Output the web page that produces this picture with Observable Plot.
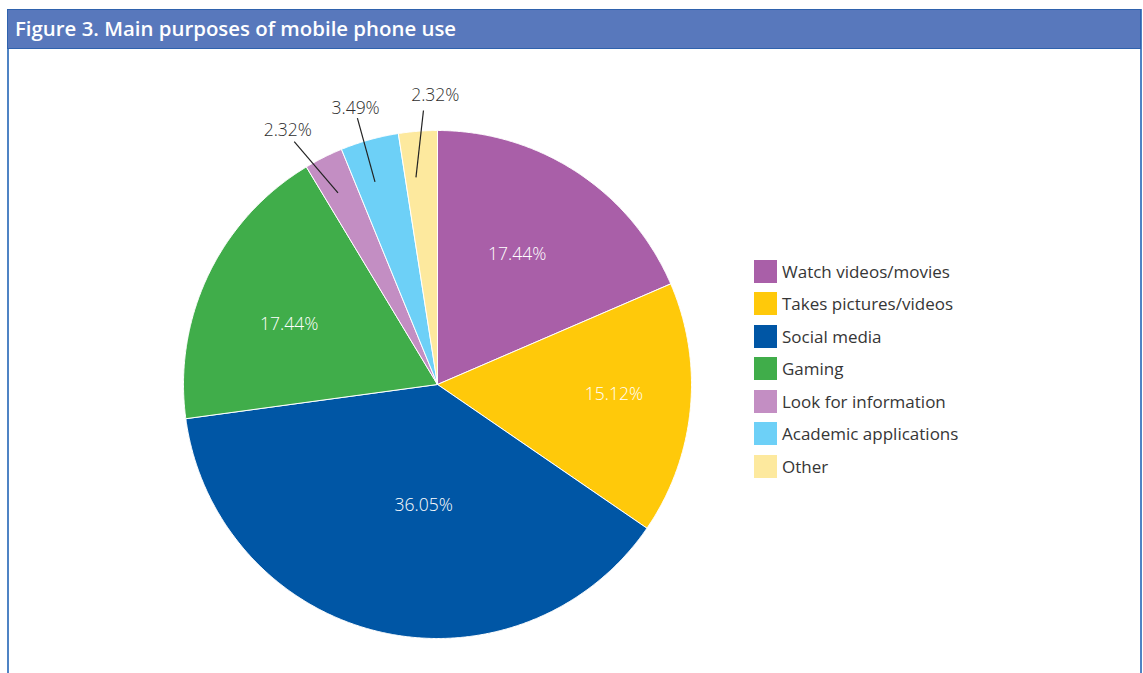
<!DOCTYPE html>
<html><head><meta charset="utf-8">
<script src="https://cdn.jsdelivr.net/npm/d3@7"></script>
<script src="https://cdn.jsdelivr.net/npm/@observablehq/plot@0.6"></script>
<style>
body{margin:0;background:#fff;font-family:"Open Sans",sans-serif;overflow:hidden;}
#frame{position:absolute;left:7px;top:9px;width:1131px;height:700px;border-left:2px solid #4f83c4;border-right:2px solid #4f83c4;}
#header{position:absolute;left:7px;top:9px;width:1134px;height:40px;background:#5878bc;border:1px solid #2f62ad;box-sizing:border-box;color:#fff;font-weight:600;font-size:20.4px;line-height:37px;padding-left:7px;white-space:nowrap;}
#chart{position:absolute;left:0;top:49px;}
#legend{position:absolute;left:754px;top:255px;font-size:17px;color:#363636;}
#legend .row{display:flex;align-items:center;height:32.5px;}
#legend .sw{width:23px;height:23px;margin-right:5px;}
</style></head>
<body>
<div id="frame"></div>
<div id="header">Figure 3. Main purposes of mobile phone use</div>
<div id="chart"></div>
<div id="legend"></div>
<script>
// ---- data ----
const categories = ["Watch videos/movies","Takes pictures/videos","Social media","Gaming","Look for information","Academic applications","Other"];
const values = [17.44, 15.12, 36.05, 17.44, 2.32, 3.49, 2.32];
const labels = ["17.44%","15.12%","36.05%","17.44%","2.32%","3.49%","2.32%"];
const colors = ["#a95fa8","#ffc90a","#0056a5","#40ad4a","#c38ec3","#6dd0f7","#fde99e"];

// ---- layout ----
const W = 1143, H = 624, cx = 437, cy = 335, R = 254;
// label placement: [inside?, radius fraction, dx px, dy px]
const labelLayout = [
  [true, 0.60, -4, -3],
  [true, 0.69, 2, -7],
  [true, 0.49, 15, 0],
  [true, 0.63, -4, 9],
  [false, 1.13, -21, 2],
  [false, 1.13, -5, 0],
  [false, 1.13, 20, -3]
];
// leader lines: [inner radius, inner angle offset deg, outer radius, outer angle offset deg]
const leaderLayout = [null, null, null, null,
  [0.85, -0.8, 1.11, -3.9],
  [0.835, -1.6, 1.095, -1.2],
  [0.82, -1.5, 1.08, 1.5]
];

const data = categories.map((c, i) => ({cat: c, v: values[i], label: labels[i]}));
const arcs = d3.pie().sort(null).value(d => d.v).startAngle(0).endAngle(2 * Math.PI)(data);

// slice polygons sampled along the arc
const poly = [];
arcs.forEach(a => {
  poly.push({cat: a.data.cat, x: 0, y: 0});
  const n = Math.max(4, Math.ceil((a.endAngle - a.startAngle) / 0.005));
  for (let k = 0; k <= n; k++) {
    const t = a.startAngle + (a.endAngle - a.startAngle) * k / n;
    poly.push({cat: a.data.cat, x: Math.sin(t), y: Math.cos(t)});
  }
  poly.push({cat: a.data.cat, x: 0, y: 0});
});

const rad = Math.PI / 180;
const lab = arcs.map((a, i) => {
  const m = (a.startAngle + a.endAngle) / 2;
  const [inside, rf, dx, dy] = labelLayout[i];
  const d = {cat: a.data.cat, text: a.data.label, inside,
    x: rf * Math.sin(m) + dx / R, y: rf * Math.cos(m) - dy / R};
  const L = leaderLayout[i];
  if (L) {
    const a1 = m + L[1] * rad, a2 = m + L[3] * rad;
    Object.assign(d, {x1: L[0] * Math.sin(a1), y1: L[0] * Math.cos(a1),
                      x2: L[2] * Math.sin(a2), y2: L[2] * Math.cos(a2)});
  }
  return d;
});
const inner = lab.filter(d => d.inside), outer = lab.filter(d => !d.inside);

const chart = Plot.plot({
  width: W, height: H, margin: 0,
  x: {domain: [-cx / R, (W - cx) / R], range: [0, W], axis: null},
  y: {domain: [cy / R, -(H - cy) / R], range: [0, H], axis: null},
  color: {domain: categories, range: colors},
  style: {fontFamily: "'Open Sans', sans-serif", background: "transparent"},
  marks: [
    Plot.line(poly, {x: "x", y: "y", z: "cat", fill: "cat", stroke: "white", strokeWidth: 1, curve: "linear"}),
    Plot.text(inner, {x: "x", y: "y", text: "text", fill: "white", fontSize: 17.5, fontWeight: 300}),
    Plot.link(outer, {x1: "x1", y1: "y1", x2: "x2", y2: "y2", stroke: "#222", strokeWidth: 1.2}),
    Plot.text(outer, {x: "x", y: "y", text: "text", fill: "#2e2e2e", fontSize: 17.5, fontWeight: 300})
  ]
});
document.getElementById("chart").appendChild(chart);

const color = chart.scale("color");
const leg = document.getElementById("legend");
categories.forEach(c => {
  const row = document.createElement("div");
  row.className = "row";
  const sw = document.createElement("div");
  sw.className = "sw";
  sw.style.background = color.apply(c);
  const t = document.createElement("span");
  t.textContent = c;
  row.appendChild(sw); row.appendChild(t);
  leg.appendChild(row);
});
</script>
</body></html>
